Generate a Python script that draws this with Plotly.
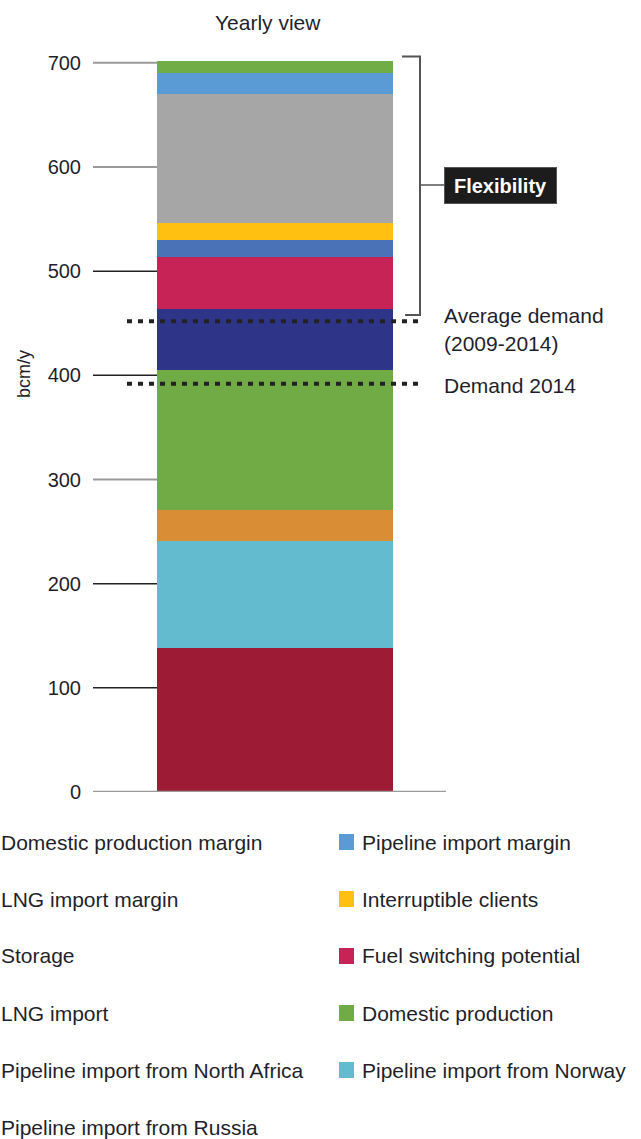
import plotly.graph_objects as go

# ---------------- data ----------------
categories = ["Yearly view"]
series_names = [
    "Pipeline import from Russia",
    "Pipeline import from Norway",
    "Pipeline import from North Africa",
    "Domestic production",
    "LNG import",
    "Fuel switching potential",
    "Storage",
    "Interruptible clients",
    "LNG import margin",
    "Pipeline import margin",
    "Domestic production margin",
]
series_values = [138, 103, 30, 134, 59, 50, 16, 16, 124, 20, 12]
series_colors = [
    "#9E1B35", "#63BBD0", "#D98E35", "#70AB46", "#2E3589", "#C72357",
    "#4A72B6", "#FFC011", "#A5A6A5", "#5B9BD5", "#70AD47",
]
tick_values = [0, 100, 200, 300, 400, 500, 600, 700]
tick_labels = ["0", "100", "200", "300", "400", "500", "600", "700"]
avg_demand = 452      # Average demand (2009-2014)
demand_2014 = 392     # Demand 2014
flex_bottom, flex_top = 458, 706

# ---------------- layout geometry (pixels) ----------------
W, H = 641, 1139
PL, PR, PT, PB = 93, 446, 42, 792
FONT = "Liberation Sans, Arial, sans-serif"
TXT = "#1f1f2b"


def px_x(p):
    return (p - PL) / (PR - PL)


def px_y(p):
    return (PB - p) / (PB - PT)


BAR_L, BAR_R = 157, 393
unit = BAR_R - BAR_L
xr = [-0.5 - (BAR_L - PL) / unit, 0.5 + (PR - BAR_R) / unit]


def dx(p):
    return -0.5 + (p - BAR_L) / unit


fig = go.Figure()
for name, val, col in zip(series_names, series_values, series_colors):
    fig.add_trace(go.Bar(
        x=[0], y=[val], name=name, width=1,
        marker=dict(color=col, line=dict(width=0)),
        showlegend=False, hovertext=categories,
    ))

shapes = []
# tick lines left of the bar
tick_line_colors = {0: "#9a9a9a", 300: "#9a9a9a", 600: "#9a9a9a", 700: "#9a9a9a"}
for v in tick_values:
    if v == 0:
        continue
    c = tick_line_colors.get(v, "#222222")
    shapes.append(dict(type="line", xref="paper", yref="y", x0=0, x1=px_x(BAR_L),
                       y0=v, y1=v, line=dict(color=c, width=2 if c != "#222222" else 1.5),
                       layer="below"))
# baseline
shapes.append(dict(type="line", xref="paper", yref="y", x0=0, x1=1, y0=0, y1=0,
                   line=dict(color="#9a9a9a", width=2.5), layer="above"))
# demand dotted lines
for v in (avg_demand, demand_2014):
    shapes.append(dict(type="line", xref="x", yref="y", x0=dx(127), x1=dx(421),
                       y0=v, y1=v, line=dict(color="#222222", width=4, dash="5px,6px"),
                       layer="above"))
# flexibility bracket
yc = (PB - 185) / (PB - PT) * 720
shapes.append(dict(type="path", xref="x", yref="y",
                   path=f"M {dx(402)},{flex_top} L {dx(420)},{flex_top} L {dx(420)},{flex_bottom} L {dx(405)},{flex_bottom}",
                   line=dict(color="#555555", width=2)))
shapes.append(dict(type="line", xref="x", yref="y", x0=dx(420), x1=dx(445), y0=yc, y1=yc,
                   line=dict(color="#555555", width=1.5)))

ann = []
ann.append(dict(text="Yearly view", xref="paper", yref="paper", x=px_x(268), y=px_y(23),
                xanchor="center", yanchor="middle", showarrow=False,
                font=dict(family=FONT, size=21, color=TXT)))
ann.append(dict(text="bcm/y", xref="paper", yref="paper", x=px_x(24), y=px_y(374),
                xanchor="center", yanchor="middle", showarrow=False, textangle=-90,
                font=dict(family=FONT, size=18, color=TXT)))
ann.append(dict(text="<b>Flexibility</b>", xref="paper", yref="paper",
                x=px_x(500.5), y=px_y(185.5), xanchor="center", yanchor="middle",
                showarrow=False, width=111, height=35, bgcolor="#1c1c1c",
                bordercolor="#555555", borderwidth=1, borderpad=0,
                font=dict(family=FONT, size=20, color="white")))
for txt, yy in (("Average demand", 315), ("(2009-2014)", 344), ("Demand 2014", 385)):
    ann.append(dict(text=txt, xref="paper", yref="paper", x=px_x(442), y=px_y(yy),
                    xanchor="left", yanchor="middle", showarrow=False,
                    font=dict(family=FONT, size=21, color=TXT)))

# legend (built from the series lists, row-major in two columns, top of stack first)
leg_names = list(reversed(series_names))
leg_colors = list(reversed(series_colors))
row_y = [842, 899, 956, 1013, 1070, 1127]
for i, (nm, col) in enumerate(zip(leg_names, leg_colors)):
    r, c = divmod(i, 2)
    y = row_y[r]
    mx = -22 if c == 0 else 339
    shapes.append(dict(type="rect", xref="paper", yref="paper",
                       x0=px_x(mx), x1=px_x(mx + 15), y0=px_y(y - 8), y1=px_y(y + 8),
                       fillcolor=col, line=dict(width=0)))
    ann.append(dict(text=nm, xref="paper", yref="paper", x=px_x(mx + 21), y=px_y(y),
                    xanchor="left", yanchor="middle", showarrow=False,
                    font=dict(family=FONT, size=21, color=TXT)))

fig.update_layout(
    width=W, height=H,
    margin=dict(l=PL, r=W - PR, t=PT, b=H - PB, autoexpand=False),
    barmode="stack", bargap=0,
    paper_bgcolor="white", plot_bgcolor="white",
    showlegend=False,
    xaxis=dict(range=xr, visible=False, fixedrange=True),
    yaxis=dict(range=[0, 720], tickvals=tick_values, ticktext=tick_labels,
               showgrid=False, zeroline=False, showline=False, ticks="",
               ticklabelstandoff=11,
               tickfont=dict(family=FONT, size=20, color=TXT)),
    shapes=shapes,
    annotations=ann,
)

fig.write_html("out.html")
